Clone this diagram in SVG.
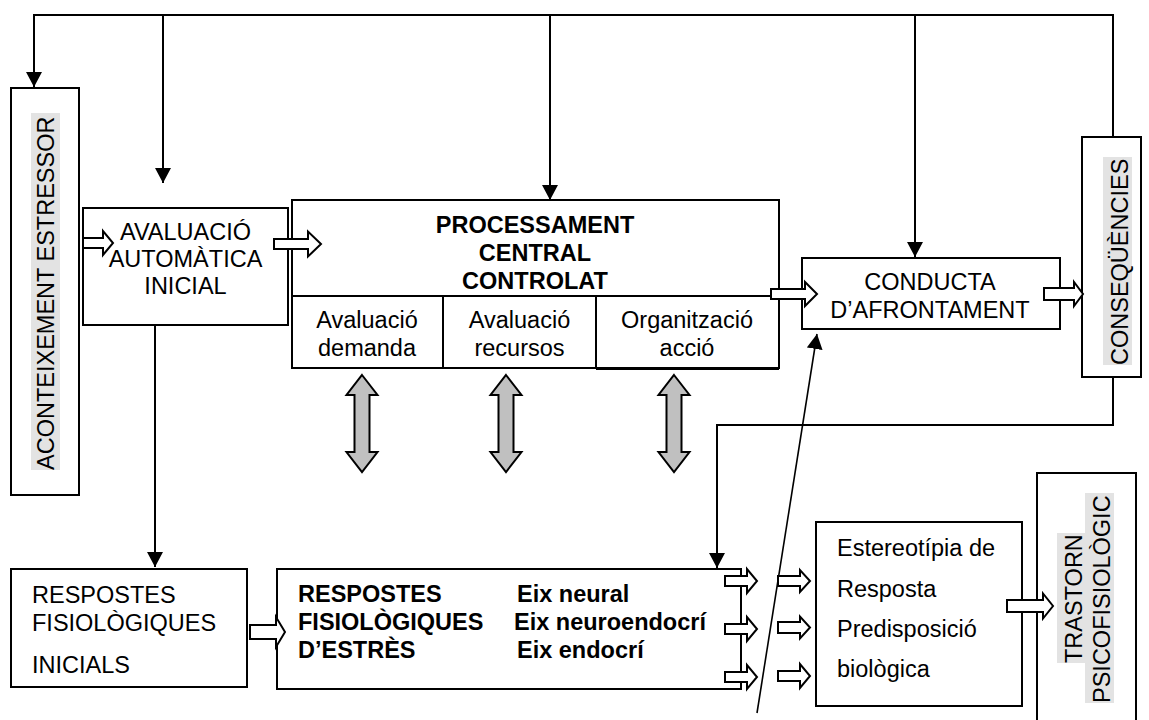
<svg xmlns="http://www.w3.org/2000/svg" width="1149" height="720" viewBox="0 0 1149 720">
  <style>
    .box { fill: #ffffff; stroke: #000000; stroke-width: 2; }
    .line { fill: none; stroke: #000000; stroke-width: 2; }
    .thin { fill: none; stroke: #000000; stroke-width: 1.6; }
    .blk { fill: #ffffff; stroke: #000000; stroke-width: 2; stroke-linejoin: miter; }
    .dbl { fill: #c0c0c0; stroke: #000000; stroke-width: 2; stroke-linejoin: miter; }
    .hl { fill: #e3e3e3; }
    text { font-family: "Liberation Sans", Arial, sans-serif; font-size: 23.5px; fill: #000000; }
    .b { font-weight: bold; }
    .c { text-anchor: middle; }
  </style>
  <defs>
    <marker id="head" markerUnits="userSpaceOnUse" markerWidth="16" markerHeight="16" refX="15" refY="8" orient="auto">
      <path d="M0,0 L15,8 L0,16 z" fill="#000000"/>
    </marker>
  </defs>

  <rect width="1149" height="720" fill="#ffffff"/>

  <!-- nodes -->
  <g id="aconteixement">
    <rect class="box" x="11" y="88" width="68" height="407"/>
    <g transform="translate(54,470) rotate(-90)">
      <rect class="hl" x="0" y="-23" width="357" height="29"/>
      <text x="0" y="0">ACONTEIXEMENT ESTRESSOR</text>
    </g>
  </g>

  <g id="avaluacio-automatica">
    <rect class="box" x="83" y="208" width="205" height="117"/>
    <text class="c" x="185.5" y="240">AVALUACIÓ</text>
    <text class="c" x="185.5" y="267">AUTOMÀTICA</text>
    <text class="c" x="185.5" y="294">INICIAL</text>
  </g>

  <g id="processament">
    <rect class="box" x="292" y="200" width="487" height="168"/>
    <line class="line" x1="292" y1="296" x2="779" y2="296"/>
    <line class="line" x1="443" y1="296" x2="443" y2="368"/>
    <line class="line" x1="596" y1="296" x2="596" y2="369"/>
    <line class="line" x1="596" y1="369" x2="779" y2="369"/>
    <text class="c b" x="535" y="233">PROCESSAMENT</text>
    <text class="c b" x="535" y="261">CENTRAL</text>
    <text class="c b" x="535" y="289">CONTROLAT</text>
    <text class="c" x="367" y="328">Avaluació</text>
    <text class="c" x="367" y="356">demanda</text>
    <text class="c" x="519.5" y="328">Avaluació</text>
    <text class="c" x="519.5" y="356">recursos</text>
    <text class="c" x="687" y="328">Organització</text>
    <text class="c" x="687" y="356">acció</text>
  </g>

  <g id="conducta">
    <rect class="box" x="802" y="258" width="258" height="71"/>
    <text class="c" x="930" y="290">CONDUCTA</text>
    <text class="c" x="930" y="318">D’AFRONTAMENT</text>
  </g>

  <g id="consequencies">
    <rect class="box" x="1082" y="137" width="59" height="240"/>
    <g transform="translate(1128,365) rotate(-90)">
      <rect class="hl" x="0" y="-25" width="208" height="29"/>
      <text x="0" y="0">CONSEQÜÈNCIES</text>
    </g>
  </g>

  <g id="respostes-inicials">
    <rect class="box" x="11" y="569" width="236" height="118"/>
    <text x="32" y="603">RESPOSTES</text>
    <text x="32" y="631">FISIOLÒGIQUES</text>
    <text x="32" y="673">INICIALS</text>
  </g>

  <g id="respostes-estres">
    <rect class="box" x="277" y="569" width="464" height="120"/>
    <text class="b" x="298" y="602">RESPOSTES</text>
    <text class="b" x="298" y="630">FISIOLÒGIQUES</text>
    <text class="b" x="298" y="658">D’ESTRÈS</text>
    <text class="b" x="517" y="602">Eix neural</text>
    <text class="b" x="514" y="630">Eix neuroendocrí</text>
    <text class="b" x="517" y="658">Eix endocrí</text>
  </g>

  <g id="estereotipia">
    <rect class="box" x="816" y="522" width="206" height="184"/>
    <text x="837" y="556">Estereotípia de</text>
    <text x="837" y="597">Resposta</text>
    <text x="837" y="637">Predisposició</text>
    <text x="837" y="677">biològica</text>
  </g>

  <g id="trastorn">
    <rect class="box" x="1037" y="473" width="99" height="260"/>
    <g transform="translate(1082,663) rotate(-90)">
      <rect class="hl" x="0" y="-25" width="130" height="28"/>
      <text x="0" y="0">TRASTORN</text>
    </g>
    <g transform="translate(1110,703) rotate(-90)">
      <rect class="hl" x="0" y="-25" width="210" height="29"/>
      <text x="0" y="0">PSICOFISIOLÒGIC</text>
    </g>
  </g>

  <!-- connectors -->
  <g id="connectors">
    <path class="line" d="M1113,137 V15 H34 V87" marker-end="url(#head)"/>
    <path class="line" d="M163,15 V183" marker-end="url(#head)"/>
    <path class="line" d="M550,15 V200" marker-end="url(#head)"/>
    <path class="line" d="M915,15 V257" marker-end="url(#head)"/>
    <path class="line" d="M155,325 V567" marker-end="url(#head)"/>
    <path class="line" d="M1113,377 V425 H717 V568" marker-end="url(#head)"/>
    <path class="thin" d="M757,713 L817,334" marker-end="url(#head)"/>

    <!-- hollow block arrows -->
    <polygon class="blk" points="83,238 103,238 103,231 113,243 103,255 103,248 83,248"/>
    <polygon class="blk" points="274,239 308,239 308,231.5 321,244 308,256.5 308,249 274,249"/>
    <polygon class="blk" points="771,289 805,289 805,282 817,294 805,306 805,299 771,299"/>
    <polygon class="blk" points="1044,288 1074,288 1074,282 1083,294 1074,306 1074,300 1044,300"/>
    <polygon class="blk" points="250,625 276,625 276,617 285,632 276,647 276,639 250,639"/>
    <polygon class="blk" points="725,576 747,576 747,569 757,581 747,593 747,586 725,586"/>
    <polygon class="blk" points="725,624 747,624 747,617 757,629 747,641 747,634 725,634"/>
    <polygon class="blk" points="725,672 747,672 747,665 757,677 747,689 747,682 725,682"/>
    <polygon class="blk" points="778,576 800,576 800,570 810,581 800,592 800,586 778,586"/>
    <polygon class="blk" points="778,622 800,622 800,616.5 810,627.5 800,638.5 800,633 778,633"/>
    <polygon class="blk" points="778,671 800,671 800,664 810,676 800,688 800,681 778,681"/>
    <polygon class="blk" points="1007,600 1043,600 1043,593.5 1053,606 1043,618.5 1043,612 1007,612"/>

    <!-- grey two-way arrows -->
    <polygon class="dbl" points="362,375 377.5,395 369.5,395 369.5,452 377.5,452 362,472 346.5,452 354.5,452 354.5,395 346.5,395"/>
    <polygon class="dbl" points="506,375 521.5,395 513.5,395 513.5,452 521.5,452 506,472 490.5,452 498.5,452 498.5,395 490.5,395"/>
    <polygon class="dbl" points="674,375 689.5,395 681.5,395 681.5,452 689.5,452 674,472 658.5,452 666.5,452 666.5,395 658.5,395"/>
  </g>
</svg>
